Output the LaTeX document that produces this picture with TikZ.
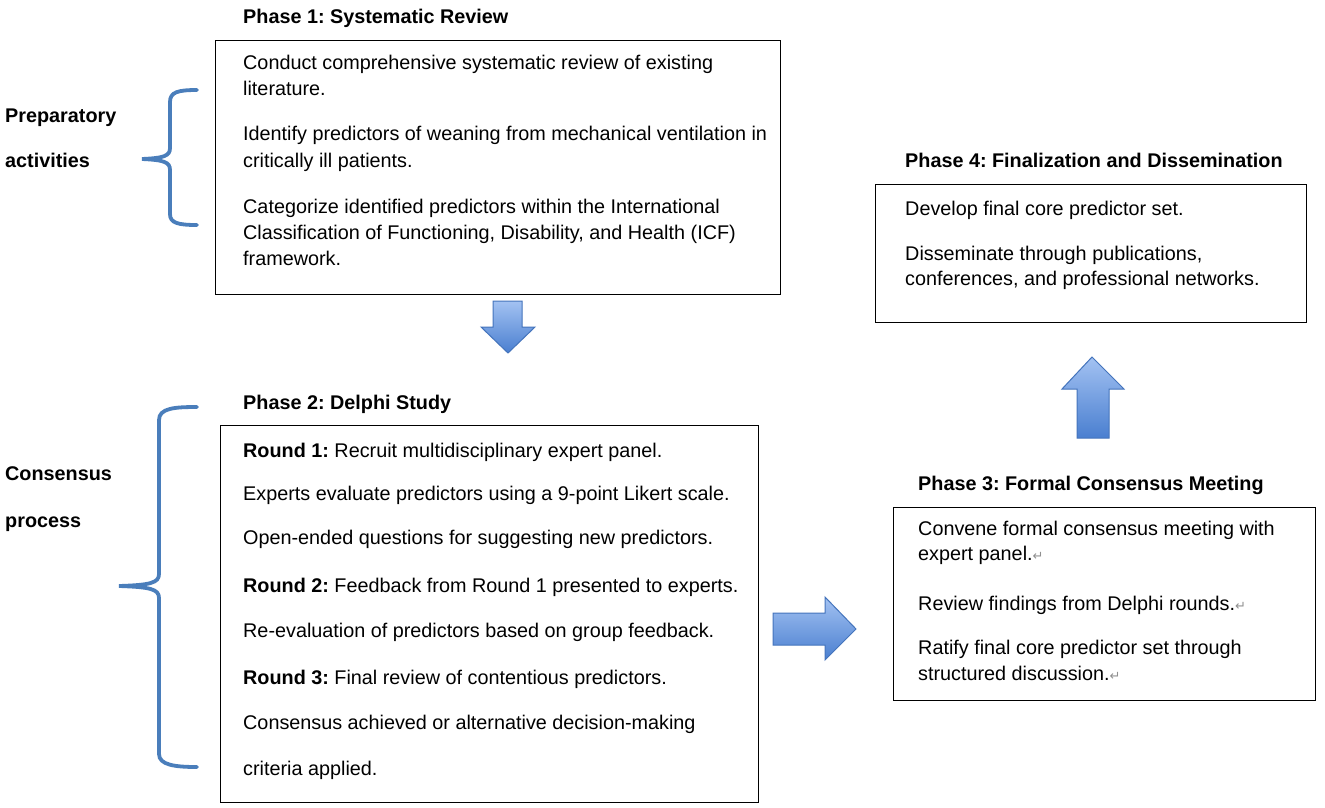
\documentclass[tikz,border=0pt]{standalone}
\usepackage{fontspec}
\setmainfont{Liberation Sans}
\newfontfamily\symfont{DejaVu Sans}
\definecolor{bracecol}{HTML}{4A7EBB}
\definecolor{arrtop}{HTML}{A3C2F2}
\definecolor{arrbot}{HTML}{4A7FD0}
\definecolor{arredge}{HTML}{4474BC}
\definecolor{retgray}{HTML}{909090}
\newcommand{\retmark}{{\symfont\color{retgray}\fontsize{13}{14}\selectfont ↵}}
\frenchspacing
\begin{document}
\begin{tikzpicture}[x=1pt,y=-1pt,
  txt/.style={anchor=base west, inner sep=0pt, font=\fontsize{19.8}{23}\selectfont},
  ttl/.style={txt, font=\bfseries\fontsize{19.8}{23}\selectfont},
  box/.style={draw=black, line width=1.3pt, anchor=north west, inner sep=0pt},
  brace/.style={draw=bracecol, line width=3.8pt, line cap=round},
  blockarrow/.style={top color=arrtop, bottom color=arrbot, draw=arredge, line width=1pt, line join=miter}]
\useasboundingbox (0,0) rectangle (1325,807);
\fill[white] (0,0) rectangle (1325,807);

% Side labels
\node[ttl] (lprep) at (5,122) {Preparatory};
\node[ttl] (lact) at (5,167) {activities};
\node[ttl] (lcons) at (5,480) {Consensus};
\node[ttl] (lproc) at (5,527) {process};

% Braces
\draw[brace] (197,90) .. controls (178,90) and (170,92) .. (170,102) -- (170,148)
  .. controls (170,156) and (164,158) .. (142,159) .. controls (164,160) and (170,162) .. (170,170)
  -- (170,214) .. controls (170,223) and (178,225) .. (197,225);
\draw[brace] (197,407) .. controls (175,407) and (159,408) .. (159,420) -- (159,574)
  .. controls (159,583) and (150,585) .. (119,586) .. controls (150,587) and (159,589) .. (159,598)
  -- (159,754) .. controls (159,765) and (175,767) .. (197,767);

% Phase 1
\node[ttl] (p1) at (243,23) {Phase 1: Systematic Review};
\node[box, minimum width=565pt, minimum height=254pt] (b1) at (215,40) {};
\node[txt] (t1a) at (243,69) {Conduct comprehensive systematic review of existing};
\node[txt] (t1b) at (243,95) {literature.};
\node[txt] (t1c) at (243,140) {Identify predictors of weaning from mechanical ventilation in};
\node[txt] (t1d) at (243,167) {critically ill patients.};
\node[txt] (t1e) at (243,213) {Categorize identified predictors within the International};
\node[txt] (t1f) at (243,239) {Classification of Functioning, Disability, and Health (ICF)};
\node[txt] (t1g) at (243,265) {framework.};

% Down arrow
\path[blockarrow] (493,301) -- (522,301) -- (522,327) -- (535,327) -- (508,353) -- (481,327) -- (493,327) -- cycle;

% Phase 2
\node[ttl] (p2) at (243,409) {Phase 2: Delphi Study};
\node[box, minimum width=538pt, minimum height=377pt] (b2) at (220,425) {};
\node[txt] (t2a) at (243,457) {\textbf{Round 1:} Recruit multidisciplinary expert panel.};
\node[txt] (t2b) at (243,500) {Experts evaluate predictors using a 9-point Likert scale.};
\node[txt] (t2c) at (243,544) {Open-ended questions for suggesting new predictors.};
\node[txt] (t2d) at (243,592) {\textbf{Round 2:} Feedback from Round 1 presented to experts.};
\node[txt] (t2e) at (243,637) {Re-evaluation of predictors based on group feedback.};
\node[txt] (t2f) at (243,684) {\textbf{Round 3:} Final review of contentious predictors.};
\node[txt] (t2g) at (243,729) {Consensus achieved or alternative decision-making};
\node[txt] (t2h) at (243,775) {criteria applied.};

% Right arrow
\path[blockarrow] (773,613) -- (825,613) -- (825,597) -- (856,629) -- (825,660) -- (825,645) -- (773,645) -- cycle;

% Phase 3
\node[ttl] (p3) at (918,490) {Phase 3: Formal Consensus Meeting};
\node[box, minimum width=422pt, minimum height=193pt] (b3) at (893,507) {};
\node[txt] (t3a) at (918,535) {Convene formal consensus meeting with};
\node[txt] (t3b) at (918,560) {expert panel.\retmark};
\node[txt] (t3c) at (918,610) {Review findings from Delphi rounds.\retmark};
\node[txt] (t3d) at (918,654) {Ratify final core predictor set through};
\node[txt] (t3e) at (918,680) {structured discussion.\retmark};

% Up arrow
\path[blockarrow] (1077,438) -- (1077,389) -- (1062,389) -- (1092,357) -- (1124,389) -- (1109,389) -- (1109,438) -- cycle;

% Phase 4
\node[ttl] (p4) at (905,167) {Phase 4: Finalization and Dissemination};
\node[box, minimum width=431pt, minimum height=138pt] (b4) at (875,184) {};
\node[txt] (t4a) at (905,215) {Develop final core predictor set.};
\node[txt] (t4b) at (905,260) {Disseminate through publications,};
\node[txt] (t4c) at (905,285) {conferences, and professional networks.};
\end{tikzpicture}
\end{document}
